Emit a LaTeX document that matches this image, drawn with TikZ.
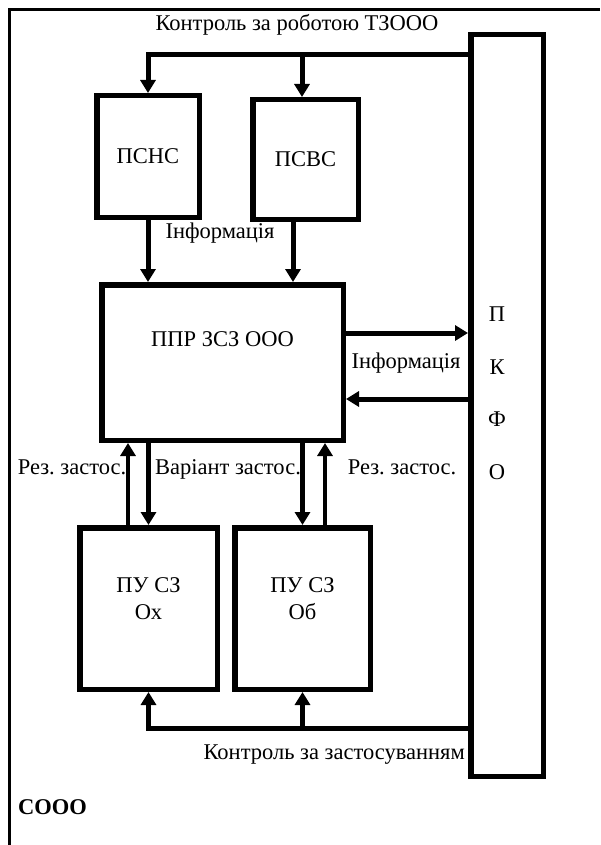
\documentclass[tikz,border=0pt]{standalone}
\usepackage{fontspec}
\setmainfont{Liberation Serif}
\usetikzlibrary{arrows.meta, positioning}
\frenchspacing

\begin{document}
\begin{tikzpicture}[
            x=1pt, y=-1pt,
            block/.style={
                    rectangle,
                    line width=5.5pt,
                    draw=black,
                    fill=white,
                    align=center,
                    font=\rmfamily\fontsize{22.5}{27}\selectfont,
                    inner sep=0pt
                },
            line/.style={
                    draw,
                    line width=5pt,
                    -{Triangle[length=13pt,width=15pt]}
                },
            lbl/.style={
                    font=\rmfamily\fontsize{22.5}{27}\selectfont,
                    inner sep=0pt
                }
        ]
        \useasboundingbox (0,0) rectangle (600,845);

        % Frame
        \draw[line width=3.5pt] (600,9.5) -- (9.5,9.5) -- (9.5,845);

        % Nodes
        \node [block, minimum width=102.5pt, minimum height=121.5pt] (psns) at (148,156.5) {ПСНС};
        \node [block, minimum width=105.5pt, minimum height=119.5pt] (psvs) at (305.5,159.5) {ПСВС};
        \node [block, minimum width=241.5pt, minimum height=155.5pt,
               label={[lbl, yshift=23.5pt]center:ППР ЗСЗ ООО}] (ppr) at (222.5,362.5) {};
        \node [block, minimum width=72.5pt, minimum height=741.5pt,
               label={[lbl, align=center, font=\rmfamily\fontsize{22.5}{52.5}\selectfont,
                       xshift=-10pt, yshift=12.5pt]center:П\\К\\Ф\\О}] (pkfo) at (507,405.5) {};
        \node [block, minimum width=137.5pt, minimum height=161.5pt,
               label={[lbl, align=center, yshift=10pt]center:ПУ СЗ\\Ох}] (puox) at (148.5,608.5) {};
        \node [block, minimum width=135.5pt, minimum height=161.5pt,
               label={[lbl, align=center, yshift=10pt]center:ПУ СЗ\\Об}] (puob) at (302.5,608.5) {};

        % Labels
        \node [lbl] (toptxt) at (297,25) {Контроль за роботою ТЗООО};
        \node [lbl] (info1) at (220,233) {Інформація};
        \node [lbl] (info2) at (406,363) {Інформація};
        \node [lbl, anchor=base] (resox) at (72,474.5) {Рез. застос.};
        \node [lbl, anchor=base] (variant) at (228,474.5) {Варіант застос.};
        \node [lbl, anchor=base] (resob) at (402,474.5) {Рез. застос.};
        \node [lbl, anchor=east] (bottxt) at (465,755) {Контроль за застосуванням};
        \node [lbl, anchor=west, font=\rmfamily\fontsize{22.5}{27}\selectfont\bfseries] (sooo) at (18,807) {СООО};

        % Bus points
        \coordinate (topbus) at (300,55);
        \coordinate (botbus) at (300,728);
        \coordinate (psvsin) at ([xshift=-3.5pt]psvs.north);
        \coordinate (psvsout) at ([xshift=-12.5pt]psvs.south);
        \coordinate (pprout) at ([yshift=29.5pt]ppr.east);
        \coordinate (pprin) at ([yshift=-36.5pt]ppr.east);
        \coordinate (oxres) at ([xshift=-20.5pt]puox.north);
        \coordinate (obres) at ([xshift=22.5pt]puob.north);

        % Control arrows
        \path [line] (pkfo.west |- topbus) -| (psns.north);
        \path [line] (psvsin |- topbus) -- (psvsin);
        \path [line] (pkfo.west |- botbus) -| (puox.south);
        \path [line] (puob.south |- botbus) -- (puob.south);

        % Information arrows
        \path [line] (psns.south) -- (psns.south |- ppr.north);
        \path [line] (psvsout) -- (psvsout |- ppr.north);
        \path [line] (pprout) -- (pprout -| pkfo.west);
        \path [line] (pprin -| pkfo.west) -- (pprin);

        % Application arrows
        \path [line, line width=4.5pt] (oxres) -- (oxres |- ppr.south);
        \path [line, line width=4.5pt] (puox.north |- ppr.south) -- (puox.north);
        \path [line, line width=4.5pt] (puob.north |- ppr.south) -- (puob.north);
        \path [line, line width=4.5pt] (obres) -- (obres |- ppr.south);
    \end{tikzpicture}
\end{document}
